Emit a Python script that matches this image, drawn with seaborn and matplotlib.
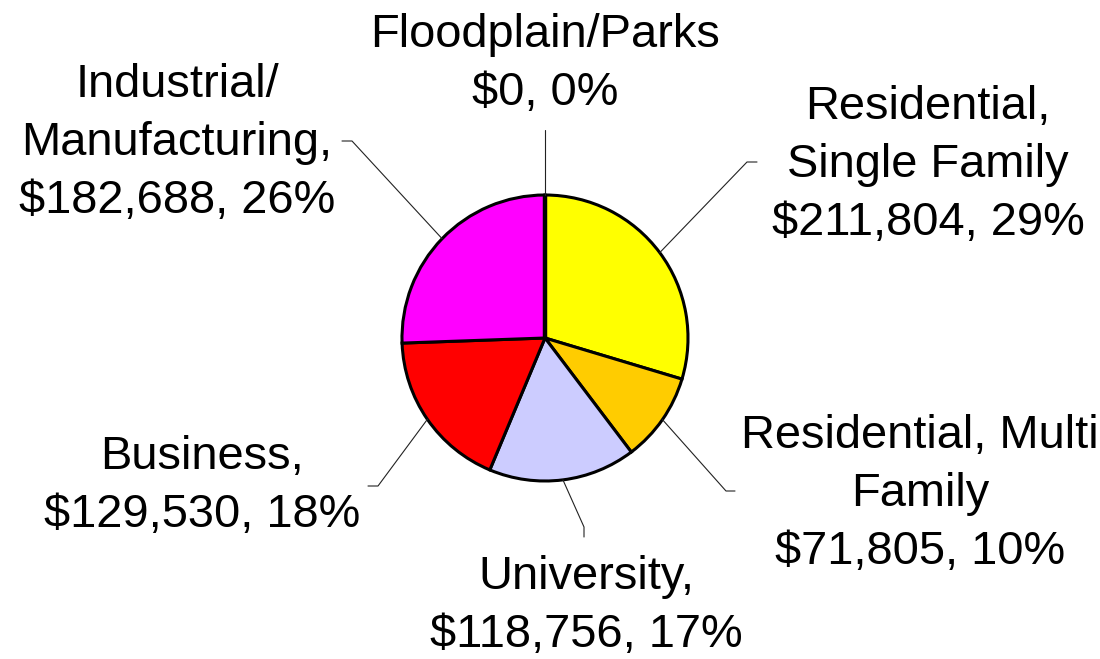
import numpy as np
import matplotlib
matplotlib.use("Agg")
import matplotlib.pyplot as plt
import seaborn as sns

# data
categories = ["Residential,\nSingle Family", "Residential, Multi\nFamily", "University,",
              "Business,", "Industrial/\nManufacturing,", "Floodplain/Parks"]
values = [211804, 71805, 118756, 129530, 182688, 0]
percents = [29, 10, 17, 18, 26, 0]
colors = ["#FFFF00", "#FFCC00", "#CCCCFF", "#FF0000", "#FF00FF", "#00CC66"]

# label layout (pixel coords, y down): text centre, leader elbow, leader tail
text_pos = [(928, 165), (920, 494), (586, 606), (202, 486), (177, 143), (545, 64)]
elbows = [(747, 162), (726, 491), (584, 527), (378, 486), (352, 141), (545, 130)]
tails = [(757, 162), (735, 491), (584, 537), (368, 486), (342, 141), (545, 130)]

W, H = 1100, 659
CX, CY, R = 545, 338, 143

sns.set_theme(style="white")
plt.rcParams["font.family"] = ["Liberation Sans", "DejaVu Sans"]

fig = plt.figure(figsize=(11, 6.59), dpi=100)
ax = fig.add_axes([0, 0, 1, 1])

wedges, _ = ax.pie(values, colors=colors, startangle=90, counterclock=False,
                   center=(CX, H - CY), radius=R,
                   wedgeprops=dict(edgecolor="black", linewidth=2.2))
# the empty Floodplain slice shows as a heavier edge line at the top
wedges[-1].set_linewidth(3.2)
ax.set_xlim(0, W)
ax.set_ylim(0, H)
ax.set_aspect("equal")
ax.axis("off")

for w, cat, v, p, tp, el, tl in zip(wedges, categories, values, percents,
                                    text_pos, elbows, tails):
    mid = np.deg2rad((w.theta1 + w.theta2) / 2)
    x0 = CX + R * np.cos(mid)
    y0 = H - CY + R * np.sin(mid)
    ax.plot([x0, el[0], tl[0]], [y0, H - el[1], H - tl[1]], color="#222222", lw=0.8)
    label = f"{cat}\n${v:,}, {p}%"
    ax.text(tp[0], H - tp[1], label, ha="center", va="center", fontsize=33.8,
            linespacing=1.42, color="black")

fig.savefig("out.png", dpi=100)
